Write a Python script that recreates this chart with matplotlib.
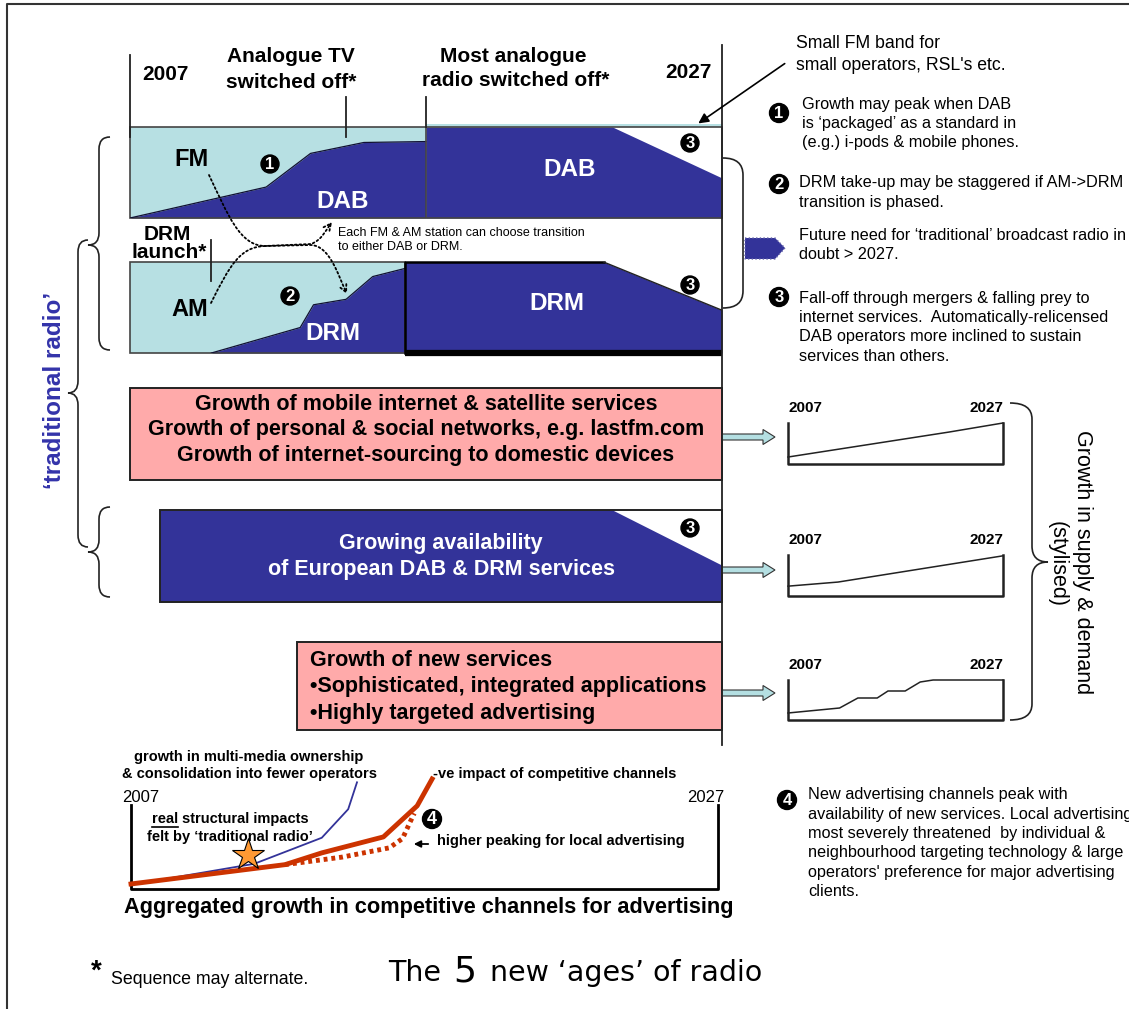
import matplotlib
matplotlib.use('Agg')
import matplotlib.pyplot as plt
from matplotlib.patches import Rectangle, Polygon, Circle, FancyArrowPatch, FancyArrow, PathPatch
from matplotlib.path import Path
from matplotlib import transforms

plt.rcParams['font.family'] = ['Liberation Sans', 'DejaVu Sans']

W, H = 1129, 1009
DARK = '#333399'
LIGHT = '#b7e0e3'
PINK = '#ffaaaa'
RED = '#cc3300'
ARROWC = '#b4dfe2'

# ---------------- data (years / shares) ----------------
fm_span = [2007, 2017.0]
dab_years = [2007, 2011.6, 2013.1, 2014.9, 2017.0]
dab_share = [0.0, 0.34, 0.71, 0.83, 0.84]
dab_full_years = [2017.0, 2023.3, 2027]
dab_full_share = [1.0, 1.0, 0.44]

am_span = [2007, 2016.3]
drm_years = [2009.75, 2012.75, 2013.2, 2014.3, 2015.2, 2016.3]
drm_share = [0.0, 0.28, 0.53, 0.59, 0.84, 0.93]
drm_full_years = [2016.3, 2023.0, 2027]
drm_full_share = [1.0, 1.0, 0.47]

euro_years = [2008, 2023.3, 2027]
euro_share = [1.0, 1.0, 0.40]

milestone_years = [2007, 2014.3, 2017.0, 2027]
drm_launch_year = 2009.75

supply1_years = [2007, 2022, 2027]
supply1 = [0.17, 0.78, 1.0]
supply2_years = [2007, 2011.65, 2027]
supply2 = [0.24, 0.34, 0.98]
supply3_years = [2007, 2011.8, 2013.5, 2015.3, 2016.3, 2017.9, 2019.3, 2020.5, 2027]
supply3 = [0.175, 0.30, 0.55, 0.55, 0.725, 0.725, 0.95, 1.0, 1.0]

adv_blue_years = [2007, 2011.2, 2013.5, 2014.4, 2014.7]
adv_blue = [0.05, 0.30, 0.61, 0.95, 1.27]
adv_red_years = [2007, 2012.25, 2013.5, 2015.6, 2016.75, 2017.26]
adv_red = [0.06, 0.29, 0.43, 0.62, 0.99, 1.31]
adv_local_years = [2012.25, 2014.2, 2015.8, 2016.25, 2016.5, 2016.65]
adv_local = [0.29, 0.38, 0.49, 0.60, 0.79, 0.90]
star_year, star_value = 2011.0, 0.40

# ---------------- figure ----------------
fig = plt.figure(figsize=(W / 100, H / 100), dpi=100)


def pix_axes(z):
    a = fig.add_axes([0, 0, 1, 1])
    a.set_xlim(0, W)
    a.set_ylim(H, 0)
    a.axis('off')
    a.patch.set_alpha(0)
    a.set_zorder(z)
    return a


def sub(x0, y0, x1, y1, xlim=(2007, 2027), ylim=(0, 1), z=2):
    a = fig.add_axes([x0 / W, 1 - y1 / H, (x1 - x0) / W, (y1 - y0) / H])
    a.set_xlim(*xlim)
    a.set_ylim(*ylim)
    a.axis('off')
    a.patch.set_alpha(0)
    a.set_zorder(z)
    return a


bg = pix_axes(1)
ov = pix_axes(10)

# outer frame
bg.plot([7, 7, 1140], [1015, 4, 4], color='#333333', lw=1.5, clip_on=False)

# ---- band 1 : FM -> DAB ----
b1 = sub(130, 127, 722, 218)
b1.fill_between(fm_span, 0, 1, color=LIGHT, lw=0)
b1.fill_between(dab_years, 0, dab_share, color=DARK, lw=0)
b1.fill_between(dab_full_years, 0, dab_full_share, color=DARK, lw=0)
b1.fill_between([2017.0, 2027], 1.0, 1.035, color=LIGHT, lw=0, clip_on=False)
b1.plot(dab_years, dab_share, color='#111133', lw=0.9)
b1.add_patch(Rectangle((2007, 0), 20, 1, fill=False, ec='#444444', lw=1.2, clip_on=False))
b1.plot([2017.0, 2017.0], [0, 1], color='#444444', lw=1.2)

# ---- band 2 : AM -> DRM ----
b2 = sub(130, 262, 722, 353)
b2.fill_between(am_span, 0, 1, color=LIGHT, lw=0)
b2.fill_between(drm_years, 0, drm_share, color=DARK, lw=0)
b2.fill_between(drm_full_years, 0, drm_full_share, color=DARK, lw=0)
b2.plot(drm_years, drm_share, color='#111133', lw=0.9)
b2.add_patch(Rectangle((2007, 0), am_span[1] - 2007, 1, fill=False, ec='#444444', lw=1.2, clip_on=False))
b2.plot([2016.3, 2016.3, 2023.0], [0, 1, 1], color='black', lw=1.8, clip_on=False)
b2.plot(drm_full_years[1:], drm_full_share[1:], color='#222222', lw=1.0)
b2.plot([2016.3, 2027], [0, 0], color='black', lw=4.5, clip_on=False, solid_capstyle='butt')

# ---- pink box 1 ----
bg.add_patch(Rectangle((130, 388), 592, 92, fc=PINK, ec='#222222', lw=1.4))
for i, t in enumerate(['Growth of mobile internet & satellite services',
                       'Growth of personal & social networks, e.g. lastfm.com',
                       'Growth of internet-sourcing to domestic devices']):
    ov.text(426, 404 + i * 25.5, t, ha='center', va='center', fontsize=15.5, fontweight='bold')

# ---- European DAB & DRM box ----
b3 = sub(130, 510, 722, 602)
b3.fill_between(euro_years, 0, euro_share, color=DARK, lw=0)
b3.add_patch(Rectangle((2008, 0), 19, 1, fill=False, ec='#222222', lw=1.4, clip_on=False))
ov.text(441, 543, 'Growing availability', ha='center', va='center', fontsize=15.5,
        fontweight='bold', color='white')
ov.text(442, 570, 'of European DAB & DRM services', ha='center', va='center', fontsize=15.5,
        fontweight='bold', color='white')

# ---- pink box 2 ----
bg.add_patch(Rectangle((297, 642), 425, 88, fc=PINK, ec='#222222', lw=1.4))
for i, t in enumerate(['Growth of new services',
                       '\u2022Sophisticated, integrated applications',
                       '\u2022Highly targeted advertising']):
    ov.text(310, 660 + i * 26.5, t, ha='left', va='center', fontsize=15.5, fontweight='bold')

# ---- year milestone lines ----
tb = transforms.blended_transform_factory(b1.transData, ov.transData)
ov.plot([milestone_years[0]] * 2, [55, 137], color='#222222', lw=1.3, transform=tb)
ov.plot([milestone_years[1]] * 2, [97, 137], color='#222222', lw=1.3, transform=tb)
ov.plot([milestone_years[2]] * 2, [97, 127], color='#222222', lw=1.3, transform=tb)
ov.plot([milestone_years[3]] * 2, [45, 745], color='#222222', lw=1.3, transform=tb)
ov.plot([drm_launch_year] * 2, [240, 281], color='#222222', lw=1.3, transform=tb)

ov.text(165, 75, '2007', ha='center', va='center', fontsize=15, fontweight='bold')
ov.text(291, 57, 'Analogue TV', ha='center', va='center', fontsize=15, fontweight='bold')
ov.text(291, 82, 'switched off*', ha='center', va='center', fontsize=15, fontweight='bold')
ov.text(513, 56, 'Most analogue', ha='center', va='center', fontsize=15, fontweight='bold')
ov.text(516, 81, 'radio switched off*', ha='center', va='center', fontsize=15, fontweight='bold')
ov.text(688, 72, '2027', ha='center', va='center', fontsize=15, fontweight='bold')

# band labels
ov.text(191, 160, 'FM', ha='center', va='center', fontsize=17, fontweight='bold')
ov.text(343, 201, 'DAB', ha='center', va='center', fontsize=17.5, fontweight='bold', color='white')
ov.text(570, 170, 'DAB', ha='center', va='center', fontsize=17.5, fontweight='bold', color='white')
ov.text(167, 235, 'DRM', ha='center', va='center', fontsize=15, fontweight='bold')
ov.text(169, 253, 'launch*', ha='center', va='center', fontsize=15, fontweight='bold')
ov.text(190, 310, 'AM', ha='center', va='center', fontsize=17, fontweight='bold')
ov.text(333, 333, 'DRM', ha='center', va='center', fontsize=17.5, fontweight='bold', color='white')
ov.text(557, 303, 'DRM', ha='center', va='center', fontsize=17.5, fontweight='bold', color='white')

ov.text(338, 233, 'Each FM & AM station can choose transition', ha='left', va='center', fontsize=9)
ov.text(338, 247, 'to either DAB or DRM.', ha='left', va='center', fontsize=9)

# dotted transition arrows
p1 = Path([(209, 175), (228, 215), (240, 246), (265, 246), (311, 245),
           (330, 246), (338, 275), (347, 294)],
          [Path.MOVETO, Path.CURVE4, Path.CURVE4, Path.CURVE4, Path.LINETO,
           Path.CURVE4, Path.CURVE4, Path.CURVE4])
p2 = Path([(211, 303), (230, 265), (240, 247), (265, 246), (311, 244),
           (322, 240), (326, 230), (332, 222)],
          [Path.MOVETO, Path.CURVE4, Path.CURVE4, Path.CURVE4, Path.LINETO,
           Path.CURVE4, Path.CURVE4, Path.CURVE4])
for p in (p1, p2):
    ov.add_patch(FancyArrowPatch(path=p, arrowstyle='->', mutation_scale=13,
                                 linestyle=(0, (1, 1.5)), lw=1.3, color='black'))


def num(x, y, s, r=9, fs=12):
    ov.add_patch(Circle((x, y), r, color='black', zorder=11))
    ov.text(x, y + 0.5, s, color='white', ha='center', va='center', fontsize=fs,
            fontweight='bold', zorder=12)


num(270, 164, '1')
num(290, 296, '2')
num(690, 143, '3')
num(690, 285, '3')
num(690, 528, '3')

# right-hand notes
ov.text(796, 43, 'Small FM band for', ha='left', va='center', fontsize=12.7)
ov.text(796, 66, "small operators, RSL's etc.", ha='left', va='center', fontsize=12.7)
ov.annotate('', xy=(696, 125), xytext=(787, 62),
            arrowprops=dict(arrowstyle='-|>', color='black', lw=1.2, mutation_scale=15))

num(779, 113, '1', r=9.5)
for i, t in enumerate(['Growth may peak when DAB',
                       'is \u2018packaged\u2019 as a standard in',
                       '(e.g.) i-pods & mobile phones.']):
    ov.text(802, 104 + i * 19.5, t, ha='left', va='center', fontsize=11.7)
num(779, 184, '2', r=9.5)
for i, t in enumerate(['DRM take-up may be staggered if AM->DRM', 'transition is phased.']):
    ov.text(799, 183 + i * 19.5, t, ha='left', va='center', fontsize=11.7)
for i, t in enumerate(['Future need for \u2018traditional\u2019 broadcast radio in', 'doubt > 2027.']):
    ov.text(799, 235 + i * 19.5, t, ha='left', va='center', fontsize=11.7)
num(779, 297, '3', r=9.5)
for i, t in enumerate(['Fall-off through mergers & falling prey to',
                       'internet services.  Automatically-relicensed',
                       'DAB operators more inclined to sustain',
                       'services than others.']):
    ov.text(799, 298 + i * 19.4, t, ha='left', va='center', fontsize=11.7)

# right bracket and pentagon arrow
bp = Path([(723, 158), (743, 158), (743, 175), (743, 291), (743, 308), (723, 308)],
          [Path.MOVETO, Path.CURVE3, Path.CURVE3, Path.LINETO, Path.CURVE3, Path.CURVE3])
ov.add_patch(PathPatch(bp, fill=False, ec='#222222', lw=1.2))
ov.add_patch(Polygon([(745, 238), (775, 238), (785, 248), (775, 259), (745, 259)],
                     closed=True, fc=DARK, ec='#6666aa', lw=1, linestyle=':'))


# curly braces
def brace(x_end, x_mid, x_tip, y0, ym, y1, r=12, lw=1.2):
    verts = [(x_end, y0), (x_mid, y0), (x_mid, y0 + r),
             (x_mid, ym - r), (x_mid, ym), (x_tip, ym),
             (x_mid, ym), (x_mid, ym + r),
             (x_mid, y1 - r), (x_mid, y1), (x_end, y1)]
    codes = [Path.MOVETO, Path.CURVE3, Path.CURVE3,
             Path.LINETO, Path.CURVE3, Path.CURVE3,
             Path.CURVE3, Path.CURVE3,
             Path.LINETO, Path.CURVE3, Path.CURVE3]
    ov.add_patch(PathPatch(Path(verts, codes), fill=False, ec='#222222', lw=lw))


brace(110, 99, 88, 137, 245, 350)
brace(88, 78, 68, 240, 393, 547)
brace(110, 99, 88, 507, 552, 597)
brace(1010, 1032, 1048, 403, 562, 720, r=16)

ov.text(55, 390, '\u2018traditional radio\u2019', rotation=90, ha='center', va='center',
        fontsize=17.5, fontweight='bold', color='#3333aa')
ov.text(1083, 562, 'Growth in supply & demand', rotation=270, ha='center', va='center', fontsize=15.5)
ov.text(1057, 564, '(stylised)', rotation=270, ha='center', va='center', fontsize=15.5)

# light blue block arrows
for y in (437, 570, 693):
    ov.add_patch(FancyArrow(722, y, 53, 0, width=6, head_width=15, head_length=12,
                            length_includes_head=True, fc=ARROWC, ec='#333333', lw=0.8))

# mini supply / demand charts
for (yt, yb), xs, ys in [((423, 464), supply1_years, supply1),
                         ((555, 596), supply2_years, supply2),
                         ((680, 720), supply3_years, supply3)]:
    m = sub(788, yt, 1003, yb)
    m.plot([2007, 2007, 2027, 2027], [1, 0, 0, 1], color='#222222', lw=1.8, clip_on=False)
    m.plot(xs, ys, color='#222222', lw=1.1, clip_on=False)
    ov.text(805, yt - 15, '2007', ha='center', va='center', fontsize=11, fontweight='bold')
    ov.text(986, yt - 15, '2027', ha='center', va='center', fontsize=11, fontweight='bold')

# ---- advertising chart ----
adv = sub(131, 805, 718, 889, z=3)
adv.plot([2007, 2007, 2027, 2027], [1, 0, 0, 1], color='black', lw=2, clip_on=False)
adv.plot(adv_blue_years, adv_blue, color=DARK, lw=1.3, clip_on=False)
adv.plot(adv_local_years, adv_local, color=RED, lw=3.5, linestyle=(0, (0.8, 0.8)), clip_on=False)
adv.plot(adv_red_years, adv_red, color=RED, lw=3.5, clip_on=False)
adv.plot([star_year], [star_value], marker='*', ms=24, mfc='#ff9933', mec='black', mew=0.8,
         clip_on=False, zorder=5)

SM = 10.5
ov.text(141, 798, '2007', ha='center', va='center', fontsize=12)
ov.text(706, 798, '2027', ha='center', va='center', fontsize=12)
ov.text(249, 757, 'growth in multi-media ownership', ha='center', va='center', fontsize=SM,
        fontweight='bold')
ov.text(249, 774, '& consolidation into fewer operators', ha='center', va='center', fontsize=SM,
        fontweight='bold')
ov.text(433, 774, '-ve impact of competitive channels', ha='left', va='center', fontsize=SM,
        fontweight='bold')

# "real structural impacts" with "real" underlined
rend = fig.canvas.get_renderer()
tmp = ov.text(0, 0, 'real structural impacts', fontsize=SM, fontweight='bold')
w_full = tmp.get_window_extent(rend).width
tmp.remove()
x_left = 230 - w_full / 2
t_real = ov.text(x_left, 819, 'real', ha='left', va='center', fontsize=SM, fontweight='bold')
w_real = t_real.get_window_extent(rend).width
ov.text(x_left + w_full, 819, 'structural impacts', ha='right', va='center', fontsize=SM,
        fontweight='bold')
ov.plot([x_left, x_left + w_real], [827, 827], color='black', lw=1.2)
ov.text(230, 837, 'felt by \u2018traditional radio\u2019', ha='center', va='center', fontsize=SM,
        fontweight='bold')

num(432, 819, '4', r=9.5, fs=13)
ov.annotate('', xy=(411, 844), xytext=(431, 844),
            arrowprops=dict(arrowstyle='-|>', color='black', lw=1.3, mutation_scale=10))
ov.text(437, 841, 'higher peaking for local advertising', ha='left', va='center', fontsize=SM,
        fontweight='bold')
ov.text(429, 908, 'Aggregated growth in competitive channels for advertising', ha='center',
        va='center', fontsize=15.7, fontweight='bold')

num(787, 800, '4', r=9.5)
for i, t in enumerate(['New advertising channels peak with',
                       'availability of new services. Local advertising',
                       'most severely threatened  by individual &',
                       'neighbourhood targeting technology & large',
                       'operators\' preference for major advertising',
                       'clients.']):
    ov.text(808, 795 + i * 19.3, t, ha='left', va='center', fontsize=11.7)

# footer
ov.text(96, 972, '*', ha='center', va='center', fontsize=20, fontweight='bold')
ov.text(111, 980, 'Sequence may alternate.', ha='left', va='center', fontsize=12.8)
ov.text(388, 981, 'The', ha='left', va='baseline', fontsize=20.5, family='DejaVu Sans')
ov.text(453, 981, '5', ha='left', va='baseline', fontsize=26, family='DejaVu Sans')
ov.text(490, 981, 'new \u2018ages\u2019 of radio', ha='left', va='baseline', fontsize=20.5,
        family='DejaVu Sans')

fig.savefig('out.png', dpi=100)
